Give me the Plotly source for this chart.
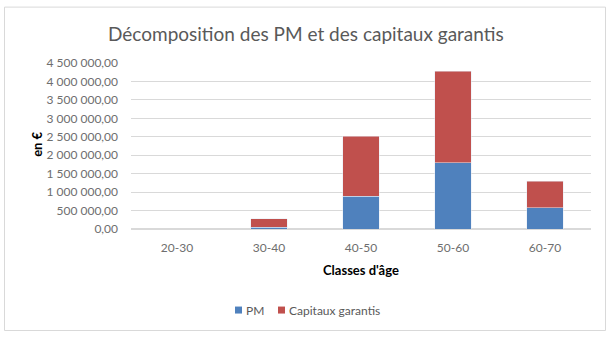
import plotly.graph_objects as go

categories = ["20-30", "30-40", "40-50", "50-60", "60-70"]
pm = [0, 50000, 890000, 1790000, 580000]
capitaux = [0, 230000, 1620000, 2480000, 720000]
y_ticks = [0, 500000, 1000000, 1500000, 2000000, 2500000, 3000000, 3500000, 4000000, 4500000]
series_names = ["PM", "Capitaux garantis"]
series_colors = ["#4F81BD", "#C0504D"]

FONT = "Lato"
GREY = "#595959"
TICK_GREY = "#6E6E6E"

W, H = 610, 338
L, R, T, B = 131, 591, 63, 229.3
pw, ph = R - L, B - T

def px(x):
    return (x - L) / pw

def py(y):
    return (B - y) / ph

fig = go.Figure()
for name, vals, col in zip(series_names, [pm, capitaux], series_colors):
    fig.add_trace(go.Bar(x=categories, y=vals, name=name, marker_color=col, showlegend=False))

annotations = [
    dict(text="Décomposition des PM et des capitaux garantis", x=px(306), y=py(33),
         xref="paper", yref="paper", showarrow=False, xanchor="center", yanchor="middle",
         font=dict(size=19, color=GREY, family=FONT)),
    dict(text="<b>Classes d'âge</b>", x=px(361), y=py(270),
         xref="paper", yref="paper", showarrow=False, xanchor="center", yanchor="middle",
         font=dict(size=13, color="#000000", family=FONT)),
    dict(text="<b>en €</b>", x=px(37), y=py(145), textangle=-90,
         xref="paper", yref="paper", showarrow=False, xanchor="center", yanchor="middle",
         font=dict(size=13, color="#000000", family=FONT)),
]
shapes = [
    dict(type="rect", xref="paper", yref="paper", x0=px(4.5), x1=px(605.5), y0=py(331), y1=py(7),
         line=dict(color="#D9D9D9", width=1), fillcolor="rgba(0,0,0,0)", layer="below"),
]

# manual legend (small squares next to text)
legend_pos = [235, 278]
for name, col, x0 in zip(series_names, series_colors, legend_pos):
    shapes.append(dict(type="rect", xref="paper", yref="paper",
                       x0=px(x0), x1=px(x0 + 7), y0=py(314), y1=py(307),
                       line=dict(width=0), fillcolor=col))
    annotations.append(dict(text=name, x=px(x0 + 9), y=py(310.5), xref="paper", yref="paper",
                            showarrow=False, xanchor="left", yanchor="middle",
                            font=dict(size=12, color=GREY, family=FONT)))

fig.update_layout(
    width=W, height=H,
    barmode="stack", bargap=0.6,
    separators=", ",
    paper_bgcolor="white", plot_bgcolor="white",
    margin=dict(l=L, r=W - R, t=T, b=H - B),
    font=dict(family=FONT, color=TICK_GREY, size=12),
    showlegend=False,
    xaxis=dict(showgrid=False, showline=False, ticks="", ticklabelstandoff=10,
               tickfont=dict(size=12, color=TICK_GREY)),
    yaxis=dict(range=[0, 4500000], tickvals=y_ticks, tickformat=",.2f",
               gridcolor="#D9D9D9", gridwidth=1, zeroline=True, zerolinecolor="#D9D9D9",
               showline=False, ticks="", ticklabelstandoff=12, tickfont=dict(size=12, color=TICK_GREY)),
    annotations=annotations,
    shapes=shapes,
)

fig.write_html("out.html")
